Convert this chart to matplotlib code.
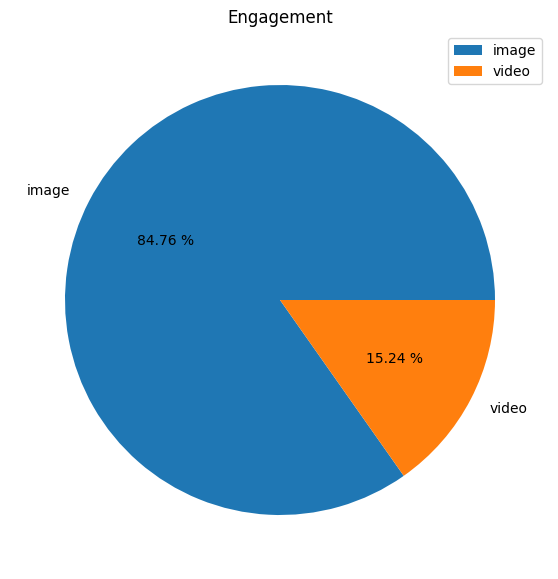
import matplotlib
matplotlib.use("Agg")
import matplotlib.pyplot as plt

labels = ["image", "video"]
values = [84.76, 15.24]

W, H = 558, 579
fig = plt.figure(figsize=(W / 100, H / 100), dpi=100)
cx, cy, r = 280, 300, 215
side = r * 2.5
ax = fig.add_axes([(cx - side / 2) / W, (H - cy - side / 2) / H, side / W, side / H])
ax.pie(values, labels=labels, autopct="%.2f %%")
ax.set_title("Engagement")
ax.legend(loc="upper right")
fig.savefig("out.png", dpi=100)
